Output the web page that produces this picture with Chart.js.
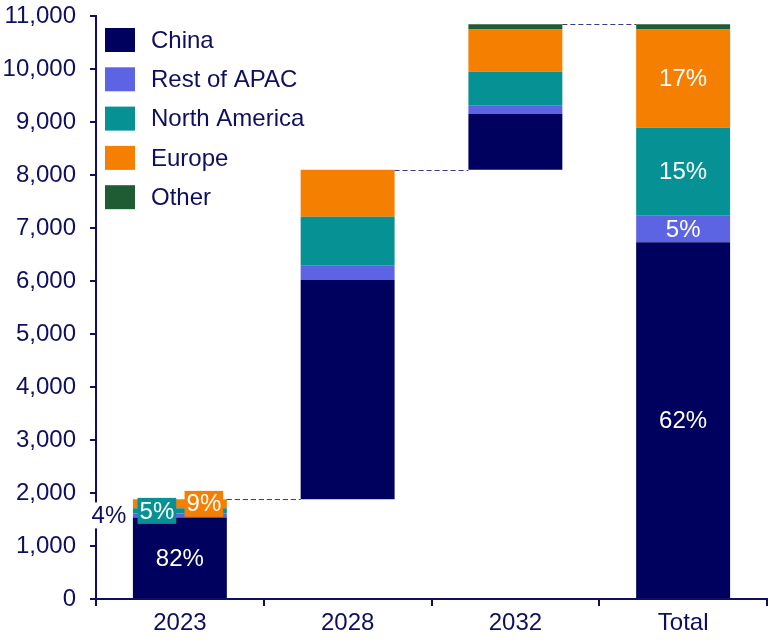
<!DOCTYPE html>
<html>
<head>
<meta charset="utf-8">
<script src="https://cdn.jsdelivr.net/npm/chart.js@4"></script>
<style>
  html, body { margin: 0; padding: 0; background: #fff; }
  #wrap { width: 768px; height: 640px; }
</style>
</head>
<body>
<div id="wrap"><canvas id="myChart" width="768" height="640"></canvas></div>
<script>
var categories = ['2023', '2028', '2032', 'Total'];
var regions = ['China', 'Rest of APAC', 'North America', 'Europe', 'Other'];

// 2023 is the base year, 2028 and 2032 are the increments on top of it
var china        = [1540, 4140, 1050];
var restOfApac   = [75, 270, 155];
var northAmerica = [95, 920, 645];
var europe       = [170, 890, 795];
var other        = [0, 0, 100];

var yMin = 0, yMax = 11000, yStep = 1000;

var colours = ['#00005e', '#5d64e3', '#069194', '#f57f00', '#1f5c34'];
var navy = '#0f0f5f';
var font = '"Liberation Sans", Arial, sans-serif';

var series = [china, restOfApac, northAmerica, europe, other];

// floating [start, end] segments for each region
var segs = series.map(function(){ return []; });
var colBottom = [], colTop = [];
var base = 0;
for (var c = 0; c < 3; c++) {
  var y = base;
  colBottom.push(base);
  series.forEach(function(s, k){
    segs[k].push([y, y + s[c]]);
    y += s[c];
  });
  colTop.push(y);
  base = y;
}
var yt = 0;
colBottom.push(0);
series.forEach(function(s, k){
  var sum = s.reduce(function(a, b){ return a + b; }, 0);
  segs[k].push([yt, yt + sum]);
  yt += sum;
});
colTop.push(yt);

var datasets = regions.map(function(name, k){
  return {
    label: name,
    data: segs[k],
    backgroundColor: colours[k],
    borderWidth: 0,
    barPercentage: 0.56,
    categoryPercentage: 1.0
  };
});

function pct(k, col) {
  var s = segs[k][col];
  return Math.round((s[1] - s[0]) / (colTop[col] - colBottom[col]) * 100) + '%';
}

var decorations = {
  id: 'decorations',
  afterDatasetsDraw: function(chart) {
    var ctx = chart.ctx;
    var yScale = chart.scales.y;
    ctx.save();

    // dashed connectors between consecutive bars
    ctx.strokeStyle = '#3a3a8c';
    ctx.lineWidth = 1;
    ctx.setLineDash([5, 3]);
    for (var c = 0; c < 3; c++) {
      var a = chart.getDatasetMeta(0).data[c];
      var b = chart.getDatasetMeta(0).data[c + 1];
      var yy = Math.round(yScale.getPixelForValue(colTop[c])) + 0.5;
      ctx.beginPath();
      ctx.moveTo(a.x + a.width / 2, yy);
      ctx.lineTo(b.x - b.width / 2, yy);
      ctx.stroke();
    }
    ctx.setLineDash([]);

    ctx.font = '24px ' + font;
    ctx.textAlign = 'center';
    ctx.textBaseline = 'middle';

    // percentage labels for the total column
    [0, 1, 2, 3].forEach(function(k){
      var el = chart.getDatasetMeta(k).data[3];
      var mid = yScale.getPixelForValue((segs[k][3][0] + segs[k][3][1]) / 2);
      ctx.fillStyle = '#ffffff';
      ctx.fillText(pct(k, 3), el.x, mid + 1);
    });

    // 2023 column: small segments get boxed labels beside each other
    var el0 = chart.getDatasetMeta(0).data[0];
    var mid0 = yScale.getPixelForValue((segs[0][0][0] + segs[0][0][1]) / 2);
    ctx.fillStyle = '#ffffff';
    ctx.fillText(pct(0, 0), el0.x, mid0 + 1);

    var boxed = [
      { k: 1, dx: -71, bg: '#ffffff', fg: navy },
      { k: 2, dx: -23, bg: colours[2], fg: '#ffffff' },
      { k: 3, dx: 24, bg: colours[3], fg: '#ffffff' }
    ];
    boxed.forEach(function(b){
      var s = segs[b.k][0];
      var cy = yScale.getPixelForValue((s[0] + s[1]) / 2);
      var cx = el0.x + b.dx;
      var txt = pct(b.k, 0);
      var w = ctx.measureText(txt).width + 4;
      ctx.fillStyle = b.bg;
      ctx.fillRect(cx - w / 2, cy - 13, w, 26);
      ctx.fillStyle = b.fg;
      ctx.fillText(txt, cx, cy + 1);
    });

    // legend in the upper left of the plot
    ctx.textAlign = 'left';
    ctx.font = '24px ' + font;
    regions.forEach(function(name, k){
      var cy = 40 + k * 39.3;
      ctx.fillStyle = colours[k];
      ctx.fillRect(105, cy - 12, 30, 24);
      ctx.fillStyle = navy;
      ctx.fillText(name, 151, cy + 1);
    });

    ctx.restore();
  }
};

var ctx = document.getElementById('myChart').getContext('2d');
var myChart = new Chart(ctx, {
  type: 'bar',
  data: { labels: categories, datasets: datasets },
  options: {
    responsive: false,
    animation: false,
    layout: { padding: { top: 16, right: 1, left: 0, bottom: 0 } },
    plugins: {
      legend: { display: false },
      tooltip: { enabled: false }
    },
    scales: {
      x: {
        stacked: true,
        grid: { drawOnChartArea: false, color: navy, tickLength: 7, lineWidth: 2, offset: true },
        border: { color: navy, width: 2 },
        ticks: { color: navy, font: { family: font, size: 24 }, padding: 3 },
        afterFit: function(scale){ scale.height = 41; scale.paddingLeft = 0; scale.paddingRight = 0; }
      },
      y: {
        stacked: false,
        min: yMin,
        max: yMax,
        grid: { drawOnChartArea: false, color: navy, tickLength: 6, lineWidth: 2 },
        border: { color: navy, width: 2 },
        ticks: {
          stepSize: yStep,
          color: navy,
          padding: 14,
          font: { family: font, size: 24 },
          callback: function(v){ return v.toLocaleString('en-US'); }
        },
        afterFit: function(scale){ scale.width = 96; scale.paddingTop = 0; scale.paddingBottom = 0; }
      }
    }
  },
  plugins: [decorations]
});
</script>
</body>
</html>
